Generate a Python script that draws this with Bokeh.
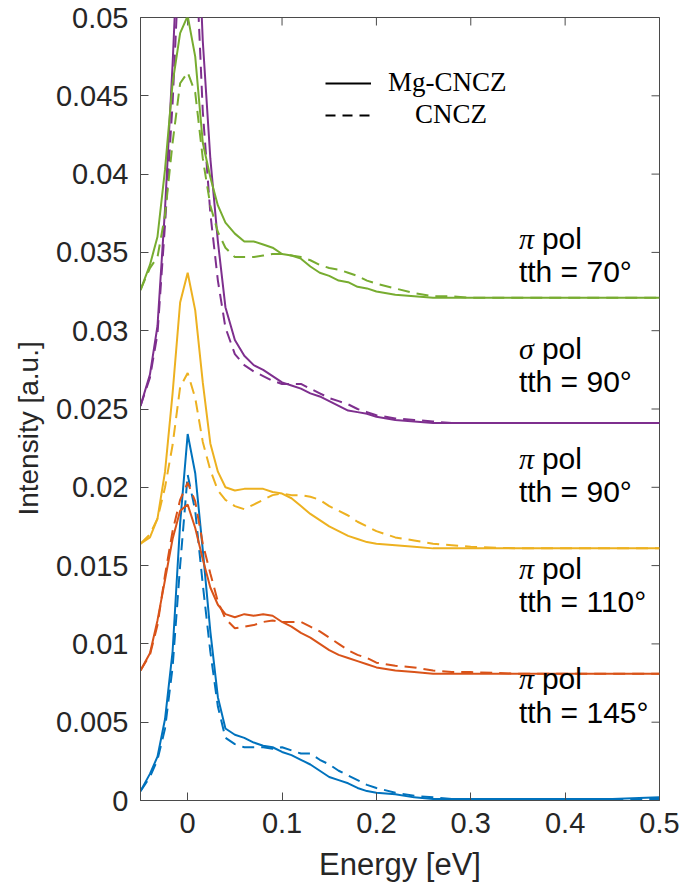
import math
from bokeh.plotting import figure
from bokeh.models import (Range1d, FixedTicker, CustomJSTickFormatter,
                          Label, Legend, LegendItem)
from bokeh.embed import file_html
from bokeh.resources import INLINE

# ---------------- data ----------------
energy = [-0.05, -0.04, -0.032, -0.024, -0.016, -0.008, 0.0, 0.008, 0.016, 0.024,
          0.032, 0.04, 0.05, 0.06, 0.07, 0.08, 0.09, 0.10, 0.11, 0.12, 0.13, 0.14,
          0.15, 0.16, 0.17, 0.18, 0.19, 0.20, 0.22, 0.24, 0.26, 0.28, 0.30, 0.35,
          0.40, 0.45, 0.50]

# pi pol, tth = 145 deg
mg_145 = [0.0006, 0.0017, 0.0028, 0.0052, 0.0095, 0.0177, 0.0234, 0.0209, 0.0160, 0.0108,
          0.0066, 0.0046, 0.0042, 0.0040, 0.0037, 0.0035, 0.0034, 0.0031, 0.0029, 0.0026,
          0.0023, 0.0019, 0.0015, 0.0013, 0.0011, 0.0008, 0.0006, 0.0005, 0.0004, 0.0002,
          0.0001, 0.0001, 0.0001, 0.0001, 0.0001, 0.0001, 0.0002]
cncz_145 = [0.0006, 0.0015, 0.0026, 0.0046, 0.0085, 0.0150, 0.0208, 0.0185, 0.0138, 0.0095,
            0.0060, 0.0040, 0.0036, 0.0034, 0.0034, 0.0034, 0.0033, 0.0034, 0.0032, 0.0030,
            0.0030, 0.0026, 0.0023, 0.0019, 0.0016, 0.0013, 0.0010, 0.0008, 0.0005, 0.0003,
            0.0002, 0.0001, 0.0001, 0.0001, 0.0001, 0.0001, 0.0001]

# pi pol, tth = 110 deg
mg_110 = [0.0083, 0.0094, 0.0115, 0.0141, 0.0167, 0.0185, 0.0189, 0.0174, 0.0154, 0.0136,
          0.0125, 0.0119, 0.0117, 0.0119, 0.0118, 0.0119, 0.0118, 0.0114, 0.0111, 0.0107,
          0.0104, 0.0100, 0.0096, 0.0093, 0.0091, 0.0089, 0.0087, 0.0085, 0.0083, 0.0082,
          0.0081, 0.0081, 0.0081, 0.0081, 0.0081, 0.0081, 0.0081]
cncz_110 = [0.0083, 0.0093, 0.0112, 0.0144, 0.0172, 0.0192, 0.0203, 0.0191, 0.0164, 0.0145,
            0.0127, 0.0116, 0.0110, 0.0111, 0.0112, 0.0114, 0.0115, 0.0114, 0.0114, 0.0114,
            0.0111, 0.0108, 0.0104, 0.0100, 0.0096, 0.0093, 0.0091, 0.0088, 0.0086, 0.0085,
            0.0083, 0.0082, 0.0082, 0.0081, 0.0081, 0.0081, 0.0081]

# pi pol, tth = 90 deg
mg_90pi = [0.0164, 0.0168, 0.0180, 0.0210, 0.0260, 0.0318, 0.0337, 0.0313, 0.0267, 0.0228,
           0.0210, 0.0200, 0.0198, 0.0199, 0.0199, 0.0199, 0.0197, 0.0196, 0.0193, 0.0188,
           0.0183, 0.0179, 0.0175, 0.0172, 0.0169, 0.0167, 0.0165, 0.0164, 0.0163, 0.0162,
           0.0161, 0.0161, 0.0161, 0.0161, 0.0161, 0.0161, 0.0161]
cncz_90pi = [0.0164, 0.0170, 0.0180, 0.0200, 0.0227, 0.0264, 0.0273, 0.0257, 0.0229, 0.0211,
             0.0198, 0.0192, 0.0188, 0.0186, 0.0189, 0.0192, 0.0195, 0.0196, 0.0195, 0.0195,
             0.0194, 0.0192, 0.0188, 0.0185, 0.0182, 0.0178, 0.0175, 0.0172, 0.0168, 0.0166,
             0.0164, 0.0163, 0.0162, 0.0161, 0.0161, 0.0161, 0.0161]

# sigma pol, tth = 90 deg
mg_90sigma = [0.0252, 0.0272, 0.0303, 0.0378, 0.0470, 0.0580, 0.0660, 0.0600, 0.0485, 0.0410,
              0.0357, 0.0315, 0.0294, 0.0284, 0.0278, 0.0275, 0.0271, 0.0267, 0.0265, 0.0263,
              0.0260, 0.0258, 0.0255, 0.0252, 0.0249, 0.0248, 0.0247, 0.0245, 0.0243, 0.0242,
              0.0241, 0.0241, 0.0241, 0.0241, 0.0241, 0.0241, 0.0241]
cncz_90sigma = [0.0252, 0.0270, 0.0298, 0.0368, 0.0445, 0.0550, 0.0620, 0.0550, 0.0440, 0.0375,
                0.0332, 0.0302, 0.0285, 0.0278, 0.0274, 0.0271, 0.0268, 0.0266, 0.0266, 0.0266,
                0.0263, 0.0260, 0.0257, 0.0255, 0.0253, 0.0250, 0.0248, 0.0246, 0.0244, 0.0243,
                0.0242, 0.0241, 0.0241, 0.0241, 0.0241, 0.0241, 0.0241]

# pi pol, tth = 70 deg
mg_70 = [0.0326, 0.0342, 0.0360, 0.0403, 0.0458, 0.0490, 0.0501, 0.0475, 0.0420, 0.0398,
         0.0380, 0.0369, 0.0362, 0.0357, 0.0357, 0.0355, 0.0353, 0.0349, 0.0348, 0.0346,
         0.0341, 0.0337, 0.0335, 0.0332, 0.0331, 0.0328, 0.0327, 0.0325, 0.0323, 0.0322,
         0.0321, 0.0321, 0.0321, 0.0321, 0.0321, 0.0321, 0.0321]
cncz_70 = [0.0326, 0.0340, 0.0347, 0.0374, 0.0420, 0.0458, 0.0465, 0.0452, 0.0410, 0.0380,
           0.0363, 0.0353, 0.0347, 0.0347, 0.0347, 0.0348, 0.0349, 0.0349, 0.0348, 0.0347,
           0.0345, 0.0342, 0.0340, 0.0339, 0.0337, 0.0335, 0.0332, 0.0330, 0.0327, 0.0324,
           0.0322, 0.0322, 0.0321, 0.0321, 0.0321, 0.0321, 0.0321]

x_ticks = [0.0, 0.1, 0.2, 0.3, 0.4, 0.5]
y_ticks = [0.0, 0.005, 0.01, 0.015, 0.02, 0.025, 0.03, 0.035, 0.04, 0.045, 0.05]

pol_symbols = ["\u03c0", "\u03c3", "\u03c0", "\u03c0", "\u03c0"]
tth_texts = ["tth = 70\u00b0", "tth = 90\u00b0", "tth = 90\u00b0", "tth = 110\u00b0", "tth = 145\u00b0"]
legend_labels = ["Mg-CNCZ", "\u00a0\u00a0\u00a0\u00a0CNCZ"]
x_title = "Energy [eV]"
y_title = "Intensity [a.u.]"

# ---------------- styling / layout ----------------
C_BLUE, C_ORANGE, C_YELLOW, C_PURPLE, C_GREEN = "#0072BD", "#D95319", "#EDB120", "#7E2F8E", "#77AC30"
AX = "#4a4a4a"
TXT = "#262626"
SANS = "Liberation Sans"
DASH = "12 7"
X0, X1, Y0, Y1 = -0.05, 0.5, 0.0, 0.05

series = [
    (mg_145, cncz_145, C_BLUE),
    (mg_110, cncz_110, C_ORANGE),
    (mg_90pi, cncz_90pi, C_YELLOW),
    (mg_90sigma, cncz_90sigma, C_PURPLE),
    (mg_70, cncz_70, C_GREEN),
]

p = figure(width=681, height=889, output_backend="svg", toolbar_location=None,
           x_range=Range1d(X0, X1), y_range=Range1d(Y0, Y1),
           min_border_left=140, min_border_right=22, min_border_top=17, min_border_bottom=89)
p.xgrid.visible = False
p.ygrid.visible = False
p.outline_line_color = AX
p.outline_line_width = 1
p.background_fill_color = "white"
p.border_fill_color = "white"

fmt = CustomJSTickFormatter(code="return parseFloat(tick.toFixed(6)).toString();")

for ax, ticks in ((p.xaxis[0], x_ticks), (p.yaxis[0], y_ticks)):
    ax.ticker = FixedTicker(ticks=ticks)
    ax.formatter = fmt
    ax.axis_line_color = AX
    ax.major_tick_line_color = AX
    ax.major_tick_in = 8
    ax.major_tick_out = 0
    ax.minor_tick_in = 0
    ax.minor_tick_out = 0
    ax.minor_tick_line_color = None
    ax.major_label_text_font = SANS
    ax.major_label_text_font_size = "29px"
    ax.major_label_text_color = TXT
    ax.major_label_standoff = 12
    ax.axis_label_text_font = SANS
    ax.axis_label_text_font_style = "normal"
    ax.axis_label_text_color = TXT

p.xaxis[0].axis_label = x_title
p.xaxis[0].axis_label_text_font_size = "31px"
p.xaxis[0].axis_label_standoff = 11
# trailing no-break spaces nudge the rotated title slightly below the frame centre
p.yaxis[0].axis_label = y_title + "\u00a0" * 5
p.yaxis[0].axis_label_text_font_size = "28px"
p.yaxis[0].axis_label_standoff = 9

# inward ticks on the top and right edges of the box (outer half clipped by the frame)
p.scatter(x=x_ticks, y=[Y1] * len(x_ticks), marker="dash", angle=math.pi / 2, size=16,
          line_color=AX, line_width=1)
p.scatter(x=[X1] * len(y_ticks), y=y_ticks, marker="dash", size=16,
          line_color=AX, line_width=1)

for mg, cn, col in series:
    p.line(energy, cn, line_color=col, line_width=2, line_dash=DASH)
    p.line(energy, mg, line_color=col, line_width=2)

# legend with black sample lines
nan = float("nan")
leg_solid = p.line(x=[nan], y=[nan], line_color="black", line_width=2.2)
leg_dash = p.line(x=[nan], y=[nan], line_color="black", line_width=2.2, line_dash="10 7")
legend = Legend(items=[LegendItem(label=legend_labels[0], renderers=[leg_solid]),
                       LegendItem(label=legend_labels[1], renderers=[leg_dash])],
                location=(185, 670), orientation="vertical",
                glyph_width=46, glyph_height=20, label_height=20, label_standoff=17,
                spacing=1, padding=0, margin=0,
                border_line_color=None, background_fill_alpha=0,
                label_text_font="Liberation Serif", label_text_font_size="27px",
                label_text_color="black")
p.add_layout(legend, "center")

# curve annotations
label_x = 0.351
pol_y = [0.03590, 0.02886, 0.02184, 0.01481, 0.00779]
tth_y = [0.03380, 0.02676, 0.01973, 0.01271, 0.00562]
for sym, tt, yp, yt in zip(pol_symbols, tth_texts, pol_y, tth_y):
    p.add_layout(Label(x=label_x, y=yp, text=sym, text_font="Liberation Serif",
                       text_font_style="italic", text_font_size="30px",
                       text_color="black", text_baseline="middle", text_align="left"))
    p.add_layout(Label(x=label_x, y=yp, x_offset=23, text="pol", text_font=SANS,
                       text_font_size="30px", text_color="black",
                       text_baseline="middle", text_align="left"))
    p.add_layout(Label(x=label_x, y=yt, text=tt, text_font=SANS,
                       text_font_size="30px", text_color="black",
                       text_baseline="middle", text_align="left"))

open("out.html", "w").write(file_html(p, INLINE))
